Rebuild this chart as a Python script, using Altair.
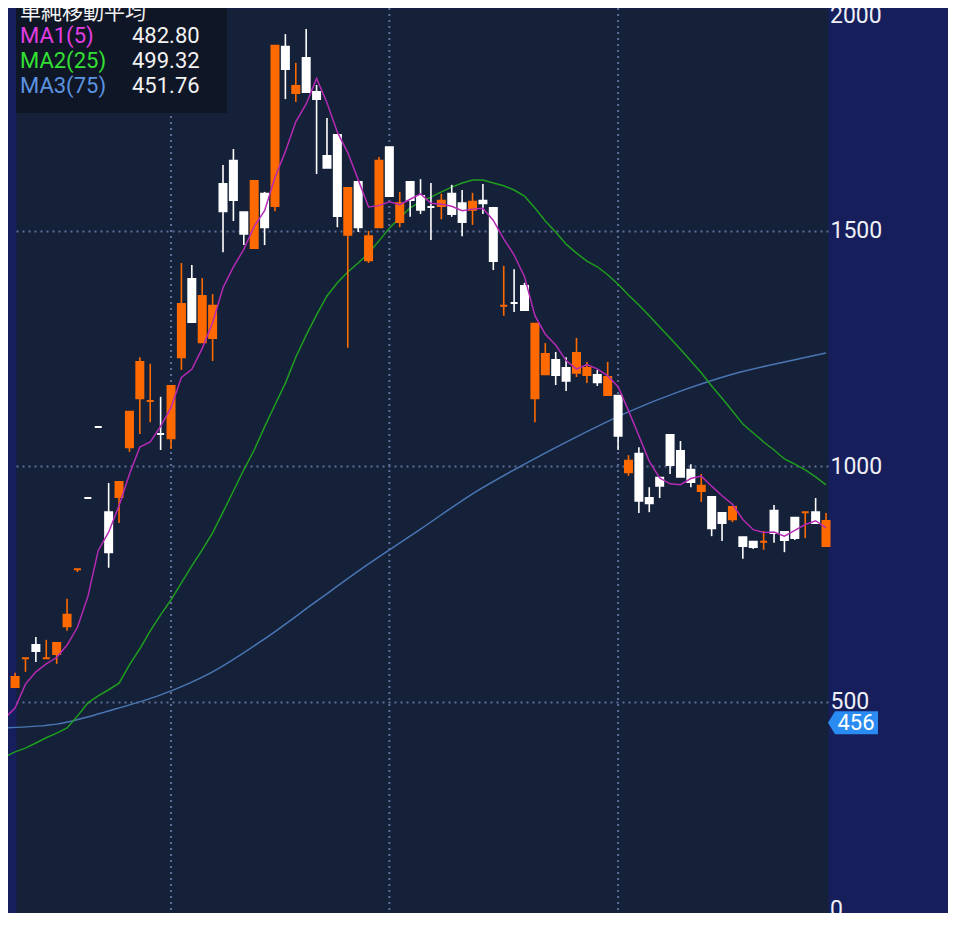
import altair as alt
import pandas as pd

# ---------------- data ----------------
opens = [532, 593, 621, 593, 602, 661, 782, 933, 1084, 903,
         935, 1041, 1145, 1139, 1069, 1060, 1232, 1398, 1264, 1273,
         1600, 1649, 1540, 1464, 1579, 1553, 1891, 1793, 1867, 1795,
         1659, 1704, 1492, 1604, 1438, 1508, 1678, 1519, 1604, 1574,
         1551, 1553, 1579, 1559, 1545, 1564, 1549, 1341, 1347, 1383,
         1303, 1196, 1194, 1209, 1199, 1209, 1179, 1190, 1150, 1012,
         1027, 933, 959, 1067, 1033, 967, 959, 935, 880, 914,
         850, 829, 840, 859, 861, 848, 903, 903, 884]
highs = [562, 593, 638, 632, 625, 719, 782, 933, 1084, 965,
         967, 1116, 1232, 1218, 1148, 1171, 1432, 1428, 1400, 1366,
         1640, 1674, 1540, 1606, 1583, 1893, 1918, 1857, 1929, 1810,
         1740, 1704, 1591, 1604, 1500, 1657, 1678, 1583, 1606, 1610,
         1602, 1579, 1598, 1587, 1581, 1600, 1549, 1426, 1419, 1390,
         1303, 1262, 1243, 1232, 1273, 1222, 1205, 1222, 1150, 1024,
         1041, 956, 976, 1067, 1054, 1005, 984, 935, 901, 914,
         850, 840, 863, 918, 861, 891, 903, 933, 901]
lows = [530, 564, 585, 593, 581, 651, 776, 933, 1084, 785,
        880, 1031, 1069, 1094, 1035, 1037, 1205, 1307, 1264, 1224,
        1455, 1521, 1470, 1464, 1470, 1542, 1780, 1774, 1795, 1621,
        1634, 1508, 1252, 1498, 1432, 1508, 1574, 1508, 1530, 1536,
        1481, 1525, 1530, 1489, 1513, 1536, 1417, 1320, 1328, 1332,
        1094, 1196, 1173, 1160, 1190, 1177, 1171, 1152, 1035, 980,
        901, 903, 933, 984, 978, 956, 925, 852, 842, 882,
        804, 825, 823, 838, 818, 844, 848, 880, 831]
closes = [553, 593, 608, 593, 625, 685, 782, 933, 1084, 818,
          967, 1116, 1222, 1139, 1069, 1171, 1345, 1307, 1362, 1341,
          1542, 1566, 1494, 1606, 1508, 1893, 1844, 1808, 1795, 1780,
          1634, 1532, 1591, 1508, 1489, 1649, 1574, 1559, 1566, 1545,
          1551, 1564, 1536, 1519, 1562, 1559, 1436, 1341, 1347, 1332,
          1145, 1239, 1226, 1182, 1241, 1194, 1194, 1152, 1065, 988,
          927, 922, 976, 1003, 978, 993, 948, 869, 901, 888,
          831, 840, 840, 906, 844, 891, 903, 880, 831]
# u = orange (rising) candle, d = white (falling) candle
directions = list("uudu" "uuuddd" "uuuudu" "udu" "u" "dddud" "udud" "dd"
                  "duduudud" "ddudd" "uddud" "d" "uudd" "uudud" "udd"
                  "dddd" "udduddudd" "duduudud" "dd")

ma1 = [466, 487, 538, 564, 581, 594.4, 620.8, 658.6, 723.6, 821.8,
       860.4, 916.8, 983.6, 1041.4, 1052.4, 1085, 1125, 1189.2, 1206.2, 1250.8,
       1305.2, 1379.4, 1423.6, 1461.0, 1509.8, 1543.2, 1613.4, 1669.0, 1731.8, 1769.6,
       1824.0, 1772.2, 1709.8, 1666.4, 1609.0, 1550.8, 1553.8, 1562.2, 1555.8, 1567.4,
       1578.6, 1559.0, 1557.0, 1552.4, 1543.0, 1546.4, 1548.0, 1522.4, 1483.4, 1449.0,
       1403.0, 1320.2, 1280.8, 1257.8, 1224.8, 1206.6, 1216.4, 1207.4, 1192.6, 1169.2,
       1118.6, 1065.2, 1010.8, 975.6, 963.2, 961.2, 974.4, 979.6, 958.2, 937.8,
       919.8, 887.4, 865.8, 860.0, 861.0, 852.2, 864.2, 876.8, 884.8, 869.8]
ma2 = [383, 394, 402, 413, 424, 434, 445, 470, 498, 513,
       526, 540, 579, 613, 651, 685, 717, 753, 789, 823,
       859, 903, 948, 993, 1035, 1084, 1131, 1177, 1232, 1279,
       1322, 1362, 1390, 1413, 1432, 1453, 1479, 1506, 1528, 1549,
       1562, 1572, 1583, 1593, 1602, 1608, 1608, 1602, 1596, 1587,
       1574, 1549, 1521, 1498, 1472, 1453, 1436, 1424, 1407, 1387,
       1364, 1343, 1320, 1296, 1273, 1249, 1224, 1199, 1171, 1145,
       1118, 1090, 1071, 1052, 1035, 1016, 1005, 993, 978, 961]
ma3_idx = [-1, 4, 9, 14, 19, 24, 29, 34, 39, 44, 49, 54, 59, 64, 69, 74, 78]
ma3 = [445, 453, 481, 515, 564, 634, 714, 793, 867, 942, 1005, 1063, 1116,
       1160, 1196, 1222, 1241]

month_lines = [15, 36, 58]
y_ticks = [500, 1000, 1500]
tag_value = [456]
legend_title = "単純移動平均"
legend_rows = [("MA1(5)", "482.80", "#e23ee2"),
               ("MA2(25)", "499.32", "#33e033"),
               ("MA3(75)", "451.76", "#5c93e0")]

# ---------------- frames ----------------
n = len(closes)
candles = pd.DataFrame({"idx": list(range(n)), "open": opens, "high": highs,
                        "low": lows, "close": closes, "dir": directions[:n]})
ma_df = pd.DataFrame({"idx": list(range(-1, n)), "ma1": ma1, "ma2": ma2})
ma3_df = pd.DataFrame({"idx": ma3_idx, "ma3": ma3})
one = pd.DataFrame({"a": [0]})

W, H = 812, 905
BG = "#161e5c"
PLOT = "#152138"
GRID = "#5f6e98"
LABEL = "#eef0f6"

xs = alt.Scale(domain=[0.57, 77.71], nice=False, zero=False)
ys = alt.Scale(domain=[52.0, 1973.4], nice=False, zero=False)
yaxis = alt.Axis(orient="right", values=y_ticks, format="d", grid=True,
                 gridColor=GRID, gridDash=[2, 4], gridWidth=2, ticks=False,
                 domain=False, labelColor=LABEL, labelFont="Roboto",
                 labelFontSize=23, labelPadding=2, labelAlign="left",
                 labelBaseline="middle", title=None)
X = alt.X("idx:Q", scale=xs, axis=None)
dir_scale = alt.Scale(domain=["u", "d"], range=["#ff6a00", "#ffffff"])

vgrid = alt.Chart(pd.DataFrame({"idx": month_lines})).mark_rule(
    color=GRID, strokeDash=[2, 4], strokeWidth=2).encode(x=X)

wicks = alt.Chart(candles).mark_rule(strokeWidth=1.6).encode(
    x=X, y=alt.Y("low:Q", scale=ys, axis=yaxis), y2="high:Q",
    color=alt.Color("dir:N", scale=dir_scale, legend=None))

bodies = alt.Chart(candles).mark_bar(size=7, strokeWidth=2).encode(
    x=X, y=alt.Y("open:Q", scale=ys, axis=yaxis), y2="close:Q",
    fill=alt.Fill("dir:N", scale=dir_scale, legend=None),
    stroke=alt.Stroke("dir:N", scale=dir_scale, legend=None))

line1 = alt.Chart(ma_df).mark_line(color="#b52ab5", strokeWidth=1.5).encode(
    x=X, y=alt.Y("ma1:Q", scale=ys, axis=yaxis))
line2 = alt.Chart(ma_df).mark_line(color="#1f9e1f", strokeWidth=1.5).encode(
    x=X, y=alt.Y("ma2:Q", scale=ys, axis=yaxis))
line3 = alt.Chart(ma3_df).mark_line(color="#4a76b4", strokeWidth=1.5,
                                    interpolate="monotone").encode(
    x=X, y=alt.Y("ma3:Q", scale=ys, axis=yaxis))

box = alt.Chart(one).mark_rect(color="#0f1626").encode(
    x=alt.value(0), x2=alt.value(211), y=alt.value(-8), y2=alt.value(105))

texts = [alt.Chart(one).mark_text(text=legend_title, font="Noto Sans CJK JP",
                                  fontSize=21, color="#f2f2f2", align="left",
                                  baseline="middle").encode(
    x=alt.value(4), y=alt.value(5))]
for k, (lab, val, col) in enumerate(legend_rows):
    yy = 28 + 25 * k
    texts.append(alt.Chart(one).mark_text(text=lab, font="Roboto", fontSize=22,
                                          color=col, align="left",
                                          baseline="middle").encode(
        x=alt.value(4), y=alt.value(yy)))
    texts.append(alt.Chart(one).mark_text(text=val, font="Roboto", fontSize=22,
                                          color="#f2f2f2", align="left",
                                          baseline="middle").encode(
        x=alt.value(116), y=alt.value(yy)))

edge_labels = [
    alt.Chart(one).mark_text(text="2000", font="Roboto", fontSize=23,
                             color=LABEL, align="left", baseline="top",
                             dy=-3).encode(
        x=alt.value(W + 2), y=alt.value(0)),
    alt.Chart(one).mark_text(text="0", font="Roboto", fontSize=23,
                             color=LABEL, align="left",
                             baseline="top").encode(
        x=alt.value(W + 2), y=alt.value(H - 14)),
]

tag_df = pd.DataFrame({"v": tag_value})
tag = alt.Chart(tag_df).mark_point(
    shape="M -1 0 L -0.72 -0.46 L 1 -0.46 L 1 0.46 L -0.72 0.46 Z",
    size=2500, filled=True, opacity=1, color="#2a8cf2").encode(
    x=alt.value(W + 25), y=alt.Y("v:Q", scale=ys, axis=yaxis))
tag_text = alt.Chart(tag_df).mark_text(font="Roboto", fontSize=22,
                                       color="#ffffff", align="center",
                                       baseline="middle").encode(
    x=alt.value(W + 28), y=alt.Y("v:Q", scale=ys, axis=yaxis),
    text=alt.Text("v:Q"))

chart = alt.layer(vgrid, line3, line2, wicks, bodies, line1, box, *texts,
                  *edge_labels, tag, tag_text).properties(
    width=W, height=H,
    autosize=alt.AutoSizeParams(type="none"),
    padding={"left": 8, "top": 0, "right": 120, "bottom": 0},
    background=BG,
).configure_view(fill=PLOT, stroke="transparent")

chart.save("out.html", embed_options={"renderer": "svg", "actions": False})
